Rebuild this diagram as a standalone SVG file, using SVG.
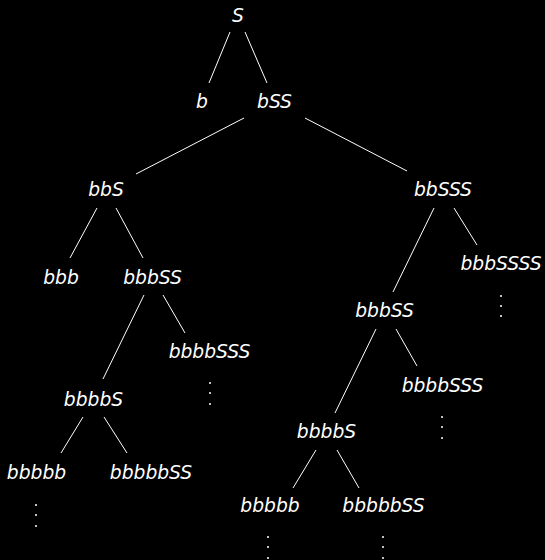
<svg xmlns="http://www.w3.org/2000/svg" width="545" height="560" viewBox="0 0 545 560">
<style>
text{font-family:"DejaVu Sans",sans-serif;font-style:oblique;font-size:18.7px;fill:#fff;text-anchor:middle}
line{stroke:#fff;stroke-width:1}
circle{fill:#fff}
</style>
<rect width="545" height="560" fill="#000"/>
<g id="connectors">
<line x1="230" y1="32" x2="209" y2="83"/>
<line x1="245" y1="32" x2="267" y2="83"/>
<line x1="244" y1="118" x2="136" y2="174"/>
<line x1="305" y1="118" x2="407" y2="171"/>
<line x1="97" y1="208" x2="70" y2="258"/>
<line x1="116" y1="208" x2="143" y2="258"/>
<line x1="434" y1="208" x2="393" y2="292"/>
<line x1="454" y1="208" x2="477" y2="245"/>
<line x1="144" y1="295" x2="103" y2="379"/>
<line x1="163" y1="295" x2="185" y2="333"/>
<line x1="376" y1="329" x2="335" y2="413"/>
<line x1="396" y1="329" x2="417" y2="366"/>
<line x1="83" y1="417" x2="61" y2="453"/>
<line x1="104" y1="417" x2="127" y2="453"/>
<line x1="316" y1="450" x2="293" y2="488"/>
<line x1="337" y1="450" x2="359" y2="488"/>
</g>
<g id="n_S"><text x="238" y="22">S</text></g>
<g id="n_b"><text x="202" y="108">b</text></g>
<g id="n_bSS"><text x="274.5" y="108">bSS</text></g>
<g id="n_bbS"><text x="106" y="196">bbS</text></g>
<g id="n_bbSSS"><text x="443" y="196">bbSSS</text></g>
<g id="n_bbb"><text x="61" y="284">bbb</text></g>
<g id="n_bbbSS_l"><text x="152.5" y="284">bbbSS</text></g>
<g id="n_bbbSSSS"><text x="501" y="270">bbbSSSS</text><circle cx="501" cy="296" r="1"/><circle cx="501" cy="306" r="1"/><circle cx="501" cy="316" r="1"/></g>
<g id="n_bbbSS_r"><text x="384.5" y="317">bbbSS</text></g>
<g id="n_bbbbSSS_l"><text x="209.5" y="358">bbbbSSS</text><circle cx="210" cy="383" r="1"/><circle cx="210" cy="393" r="1"/><circle cx="210" cy="404" r="1"/></g>
<g id="n_bbbbSSS_r"><text x="442.5" y="392">bbbbSSS</text><circle cx="442" cy="417" r="1"/><circle cx="442" cy="427" r="1"/><circle cx="442" cy="438" r="1"/></g>
<g id="n_bbbbS_l"><text x="93.5" y="406">bbbbS</text></g>
<g id="n_bbbbS_r"><text x="326.5" y="438">bbbbS</text></g>
<g id="n_bbbbb_l"><text x="36.5" y="479">bbbbb</text><circle cx="36" cy="505" r="1"/><circle cx="36" cy="515" r="1"/><circle cx="36" cy="526" r="1"/></g>
<g id="n_bbbbbSS_l"><text x="151" y="479">bbbbbSS</text></g>
<g id="n_bbbbb_r"><text x="270" y="512">bbbbb</text><circle cx="268" cy="537" r="1"/><circle cx="268" cy="547" r="1"/><circle cx="268" cy="558" r="1"/></g>
<g id="n_bbbbbSS_r"><text x="383.5" y="512">bbbbbSS</text><circle cx="383" cy="537" r="1"/><circle cx="383" cy="547" r="1"/><circle cx="383" cy="558" r="1"/></g>
</svg>
